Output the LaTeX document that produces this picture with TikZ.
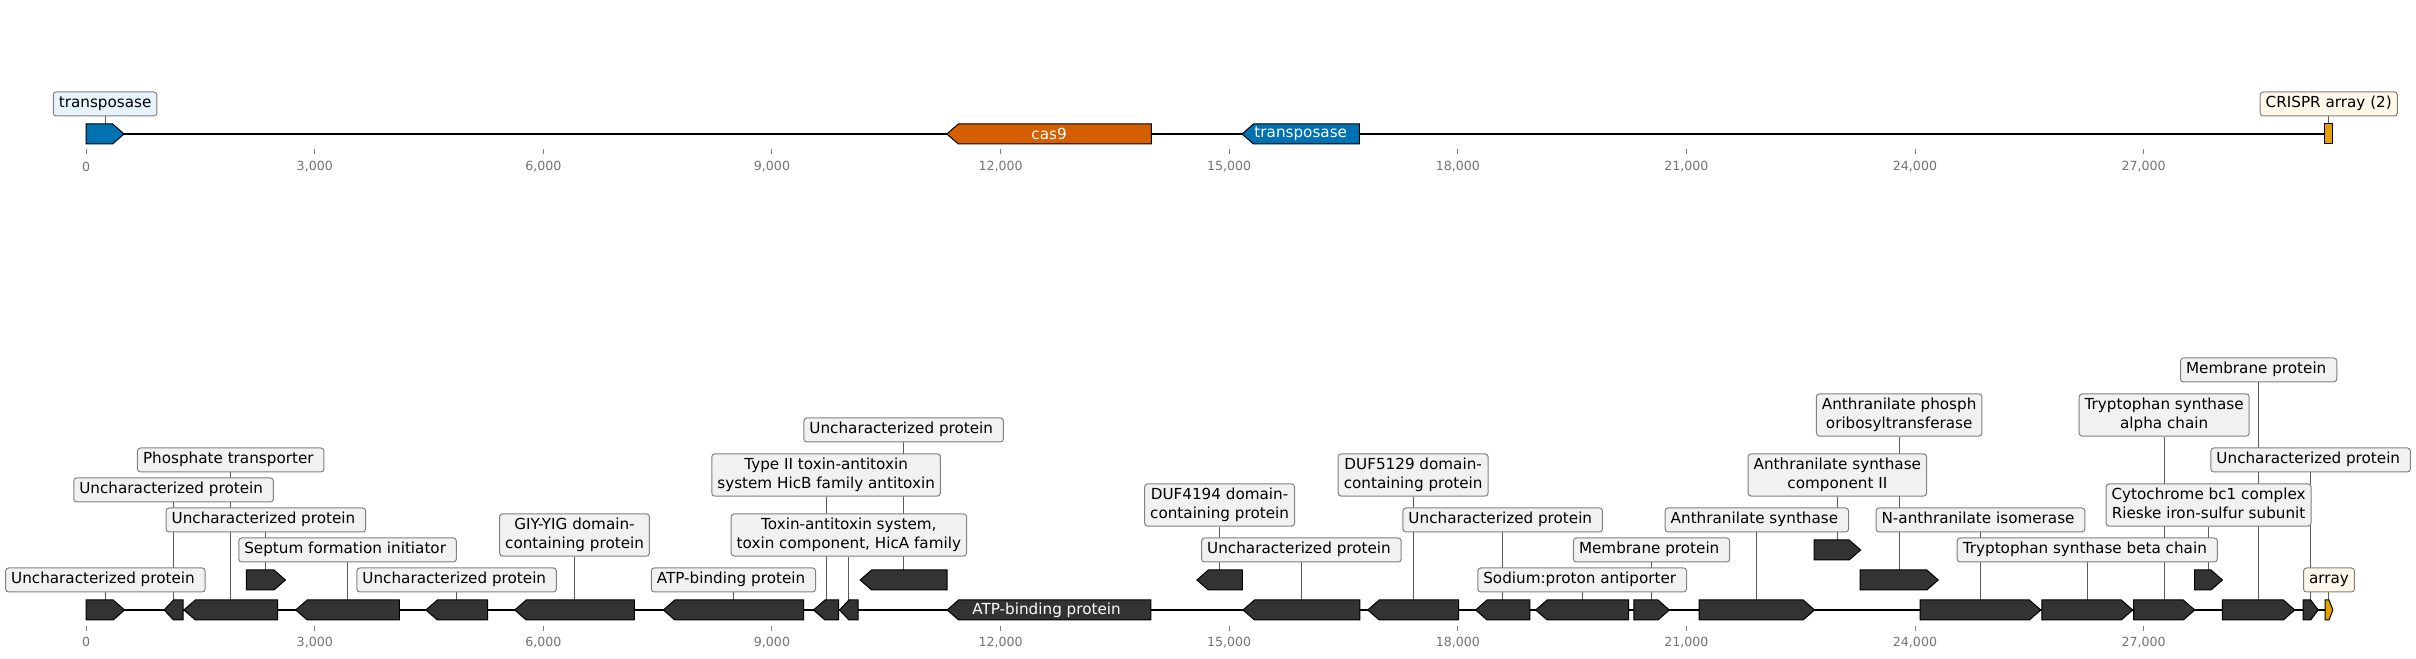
\documentclass[tikz,border=0pt]{standalone}
\usepackage{fontspec}
\setmainfont{DejaVu Sans}
\usepackage{tikz}
\usetikzlibrary{calc}
\definecolor{genegray}{HTML}{333333}
\definecolor{geneblue}{HTML}{0072B2}
\definecolor{genered}{HTML}{D55E00}
\definecolor{geneorange}{HTML}{E69F00}
\definecolor{boxgray}{HTML}{F1F1F1}
\definecolor{boxblue}{HTML}{E6F3FA}
\definecolor{boxorange}{HTML}{FFF7E8}
\newcommand{\genefont}{\fontsize{7.6}{9.1}\selectfont}
\pgfdeclarelayer{background}
\pgfsetlayers{background,main}
\tikzset{gene/.style={
  draw=black,
  line width=0.5pt,
  fill=genegray
  }
}
\tikzset{backbone/.style={
  black,
  line width=1pt
  }
}
\tikzset{label box/.style={
  draw=black!50,
  fill=boxgray,
  rounded corners=1.5pt,
  line width=0.5pt,
  font=\genefont,
  inner xsep=2.77pt,
  inner ysep=2.2pt
  }
}
\tikzset{one line/.style={label box, text height=5.8pt, text depth=1.8pt}}
\tikzset{two lines/.style={label box, align=center, text depth=1.8pt}}
\tikzset{space after/.style={execute at end node={\hspace{0.318em}}}}
\tikzset{gene link/.style={black!65, line width=0.5pt}}
\tikzset{gene text/.style={white, font=\genefont, inner sep=0pt}}
\tikzset{tick/.style={black!50, line width=0.5pt}}
\tikzset{tick label/.style={black!55, font=\fontsize{6.3}{7}\selectfont, inner sep=0pt}}

\begin{document}
\begin{tikzpicture}[x=38.1pt,y=15pt]
    \useasboundingbox (-1.131,-1.633) rectangle (30.575,20.333);

    % top record
    \begin{scope}[shift={(0,15.867)}]
    \draw[backbone] (0,0) -- (29.482,0);
    \foreach \k/\lab in {0/0,3/{3,000},6/{6,000},9/{9,000},12/{12,000},15/{15,000},18/{18,000},21/{21,000},24/{24,000},27/{27,000}} {
        \draw[tick] (\k,-0.51) -- (\k,-0.667);
        \node[tick label] (TA\k) at (\k,-1.09) {\lab};
    }
    \draw[gene,fill=geneblue] (0,-0.333) -- (0.347,-0.333) -- (0.497,0) -- (0.347,0.333) -- (0,0.333) -- cycle;
    \coordinate (T1) at (0.2485,0.333);
    \draw[gene,fill=genered] (13.978,-0.333) -- (11.445,-0.333) -- (11.295,0) -- (11.445,0.333) -- (13.978,0.333) -- cycle;
    \node[gene text] (T2) at (12.637,0) {cas9};
    \draw[gene,fill=geneblue] (16.708,-0.333) -- (15.319,-0.333) -- (15.169,0) -- (15.319,0.333) -- (16.708,0.333) -- cycle;
    \node[gene text] (T3) at (15.939,0) {transposase};
    \draw[gene,fill=geneorange] (29.377,-0.333) rectangle (29.482,0.333);
    \coordinate (T4) at (29.43,0.333);
    \node[one line,fill=boxblue] (LT1) at (T1 |- 0,1) {transposase};
    \node[one line,fill=boxorange] (LT4) at (T4 |- 0,1) {CRISPR array (2)};
    \end{scope}

    % bottom record
    \draw[backbone] (0,0) -- (29.484,0);
    \foreach \k/\lab in {0/0,3/{3,000},6/{6,000},9/{9,000},12/{12,000},15/{15,000},18/{18,000},21/{21,000},24/{24,000},27/{27,000}} {
        \draw[tick] (\k,-0.533) -- (\k,-0.7);
        \node[tick label] (BA\k) at (\k,-1.08) {\lab};
    }

    \foreach \g/\s/\e/\y in {1/0/0.504/0,4/2.101/2.615/1,18/20.310/20.777/0,19/21.168/22.682/0,20/22.676/23.286/2,21/23.280/24.305/1,22/24.068/25.651/0,23/25.664/26.857/0,24/26.869/27.671/0,25/27.671/28.035/1,26/28.035/28.984/0,27/29.094/29.292/0} {
        \pgfmathsetmacro\headlen{min(0.15,(\e-\s)/2)}
        \draw[gene] (\s,\y-0.333) -- (\e-\headlen,\y-0.333) -- (\e,\y) -- (\e-\headlen,\y+0.333) -- (\s,\y+0.333) -- cycle;
        \coordinate (G\g) at ({(\s+\e)/2},\y+0.333);
    }

    \foreach \g/\s/\e/\y in {2/1.022/1.272/0,3/1.282/2.512/0,5/2.750/4.111/0,6/4.458/5.267/0,7/5.624/7.194/0,8/7.574/9.415/0,9/9.545/9.876/0,10/9.887/10.131/0,11/10.157/11.299/1,12/11.299/13.971/0,13/14.576/15.172/1,14/15.182/16.714/0,15/16.818/18.011/0,16/18.234/18.945/0,17/19.022/20.243/0} {
        \pgfmathsetmacro\headlen{min(0.15,(\e-\s)/2)}
        \draw[gene] (\e,\y-0.333) -- (\s+\headlen,\y-0.333) -- (\s,\y) -- (\s+\headlen,\y+0.333) -- (\e,\y+0.333) -- cycle;
        \coordinate (G\g) at ({(\s+\e)/2},\y+0.333);
    }

    \draw[gene,fill=geneorange] (29.382,-0.333) -- (29.433,-0.333) -- (29.484,0) -- (29.433,0.333) -- (29.382,0.333) -- cycle;
    \coordinate (G28) at (29.433,0.333);

    \node[gene text,space after] (A12) at (G12 |- 0,0) {ATP-binding protein};

    \foreach \g/\ly/\lab in {1/1/Uncharacterized protein,2/4/Uncharacterized protein,3/5/Phosphate transporter,4/3/Uncharacterized protein,5/2/Septum formation initiator,6/1/Uncharacterized protein,8/1/ATP-binding protein,11/6/Uncharacterized protein,14/2/Uncharacterized protein,16/3/Uncharacterized protein,17/1/Sodium:proton antiporter,18/2/Membrane protein,19/3/Anthranilate synthase,22/3/N-anthranilate isomerase,23/2/Tryptophan synthase beta chain,26/8/Membrane protein,27/5/Uncharacterized protein}
        \node[one line,space after] (L\g) at (G\g |- 0,\ly) {\lab};

    \foreach \g/\ly/\lab in {7/2.5/{GIY-YIG domain-\\containing protein},9/4.5/{Type II toxin-antitoxin\\system HicB family antitoxin},10/2.5/{Toxin-antitoxin system,\\toxin component, HicA family},13/3.5/{DUF4194 domain-\\containing protein},15/4.5/{DUF5129 domain-\\containing protein},20/4.5/{Anthranilate synthase\\component II},21/6.5/{Anthranilate phosph\\oribosyltransferase},24/6.5/{Tryptophan synthase\\alpha chain},25/3.5/{Cytochrome bc1 complex\\Rieske iron-sulfur subunit}}
        \node[two lines] (L\g) at (G\g |- 0,\ly) {\lab};

    \node[one line,fill=boxorange] (L28) at (G28 |- 0,1) {array};

    \begin{pgfonlayer}{background}
    \foreach \g in {1,...,11,13,14,...,28}
        \draw[gene link] (L\g) -- (G\g);
    \draw[gene link] (LT1) -- (T1);
    \draw[gene link] (LT4) -- (T4);
    \end{pgfonlayer}
\end{tikzpicture}
\end{document}
